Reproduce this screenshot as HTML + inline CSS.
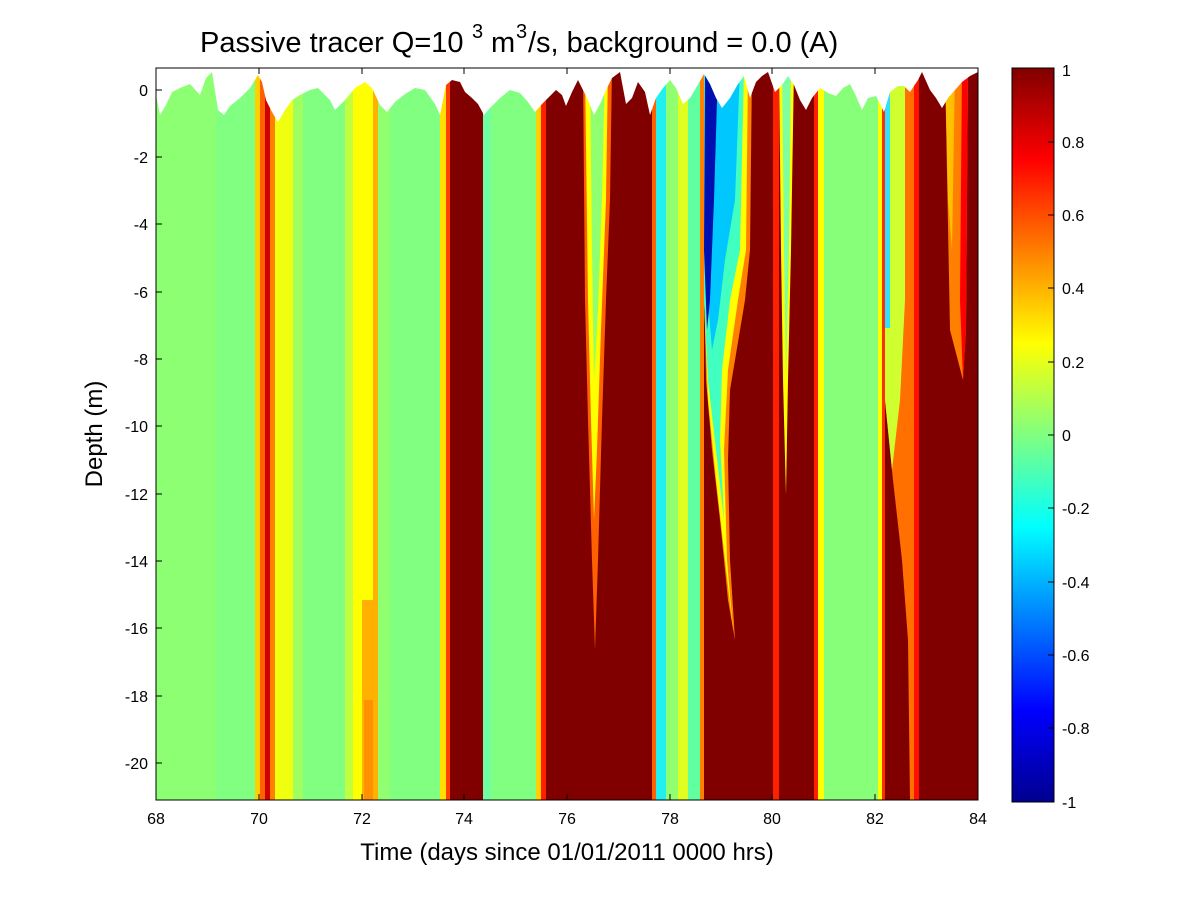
<!DOCTYPE html>
<html><head><style>
body{margin:0;background:#fff;}
svg text{font-family:"Liberation Sans",Arial,sans-serif;fill:#000;}
</style></head><body>
<svg width="1200" height="900" xmlns="http://www.w3.org/2000/svg">
<defs>
<linearGradient id="jet" x1="0" y1="1" x2="0" y2="0">
<stop offset="0" stop-color="#00008f"/>
<stop offset="0.125" stop-color="#0000ff"/>
<stop offset="0.375" stop-color="#00ffff"/>
<stop offset="0.5" stop-color="#80ff80"/>
<stop offset="0.625" stop-color="#ffff00"/>
<stop offset="0.875" stop-color="#ff0000"/>
<stop offset="1" stop-color="#800000"/>
</linearGradient>
<clipPath id="pc"><rect x="156" y="68" width="822" height="732"/></clipPath>
</defs>
<g clip-path="url(#pc)">
<rect x="156" y="68" width="822" height="732" fill="#80ff80"/>
<rect x="156" y="68" width="60" height="732" fill="#8cff73"/>
<rect x="216" y="68" width="40" height="732" fill="#80ff80"/>
<rect x="255" y="68" width="5" height="732" fill="#ffd000"/>
<rect x="260" y="68" width="5" height="732" fill="#ff6000"/>
<rect x="265" y="68" width="5" height="732" fill="#d00000"/>
<rect x="270" y="68" width="5" height="732" fill="#ff8000"/>
<rect x="275" y="68" width="18" height="732" fill="#f0ff10"/>
<rect x="293" y="68" width="10" height="732" fill="#a0ff60"/>
<rect x="345" y="68" width="8" height="732" fill="#c0ff40"/>
<rect x="353" y="68" width="20" height="732" fill="#ffff00"/>
<rect x="362" y="600" width="12" height="200" fill="#ffb000"/>
<rect x="364" y="700" width="9" height="100" fill="#ff9000"/>
<rect x="373" y="68" width="5" height="732" fill="#ffb000"/>
<rect x="378" y="68" width="12" height="732" fill="#90ff70"/>
<rect x="440" y="68" width="6" height="732" fill="#ffe000"/>
<rect x="446" y="68" width="4" height="732" fill="#ff4000"/>
<rect x="450" y="68" width="33" height="732" fill="#800000"/>
<rect x="483" y="68" width="8" height="732" fill="#70ffa0"/>
<rect x="536" y="68" width="5" height="732" fill="#ffd000"/>
<rect x="541" y="68" width="5" height="732" fill="#ff2000"/>
<rect x="546" y="68" width="106" height="732" fill="#800000"/>
<polygon points="583,68 612,68 610,200 606,300 602,420 598,560 595,650 592,560 588,420 585,300" fill="#ff6000"/>
<polygon points="585,68 608,68 606,200 601,330 597,450 594,520 591,420 588,300" fill="#ffff00"/>
<polygon points="590,68 605,68 602,200 598,310 594,380 592,250" fill="#90ff70"/>
<rect x="652" y="68" width="4" height="732" fill="#ff6000"/>
<rect x="656" y="68" width="10" height="732" fill="#20f0f0"/>
<rect x="666" y="68" width="12" height="732" fill="#90ff70"/>
<rect x="678" y="68" width="10" height="732" fill="#e0ff20"/>
<rect x="688" y="68" width="12" height="732" fill="#60ffa0"/>
<rect x="700" y="68" width="4" height="732" fill="#ff8000"/>
<rect x="704" y="68" width="112" height="732" fill="#800000"/>
<polygon points="704,68 752,68 750,250 745,300 735,360 730,390 728,460 730,560 735,640 728,600 720,520 712,450 706,380 704,280" fill="#ff8000"/>
<polygon points="704,68 748,68 746,250 738,300 728,370 724,450 727,560 733,630 725,560 716,480 708,400 704,300" fill="#ffff00"/>
<polygon points="704,68 744,68 740,250 730,300 722,370 720,440 724,520 716,450 708,380 704,300" fill="#40ffc0"/>
<polygon points="712,68 740,68 735,200 725,260 718,320 712,350 708,300 705,200" fill="#00c8ff"/>
<polygon points="705,68 718,68 714,200 710,300 707,330 704,250" fill="#0010b0"/>
<rect x="773" y="68" width="6" height="732" fill="#ff2000"/>
<polygon points="779,68 794,68 791,250 788,380 786,495 783,380 781,250" fill="#ffff00"/>
<polygon points="782,68 791,68 789,250 786,380 784,250" fill="#80ffa0"/>
<rect x="814" y="68" width="4" height="732" fill="#ff2000"/>
<rect x="818" y="68" width="6" height="732" fill="#ffff00"/>
<rect x="824" y="68" width="58" height="732" fill="#88ff78"/>
<rect x="878" y="68" width="4" height="732" fill="#ffff00"/>
<rect x="882" y="68" width="3" height="732" fill="#ff3000"/>
<rect x="885" y="68" width="93" height="732" fill="#800000"/>
<polygon points="885,68 918,68 918,800 910,800 908,640 902,560 893,480 885,400" fill="#ff7000"/>
<polygon points="885,68 905,68 905,300 900,400 892,470 885,400" fill="#d0ff30"/>
<rect x="885" y="68" width="5" height="260" fill="#30e0ff"/>
<rect x="914" y="68" width="5" height="732" fill="#ff1000"/>
<polygon points="945,68 968,68 966,330 963,380 950,330" fill="#ff8000"/>
<polygon points="945,68 955,68 952,250 948,200" fill="#ffc000"/>
<polygon points="962,68 968,68 966,330 963,380 960,300" fill="#ff0000"/>
<polygon fill="#fff" points="156,68 156,95 160,115 166,105 172,92 180,88 190,84 200,95 206,78 212,72 218,110 224,115 230,106 240,98 250,88 258,75 262,82 266,100 272,112 278,122 285,110 292,100 300,95 310,90 318,88 330,100 335,110 345,100 355,88 365,82 372,88 380,105 387,112 395,102 405,94 415,88 425,90 435,104 440,115 446,85 452,80 460,82 465,92 472,98 478,104 484,115 490,108 500,98 510,90 520,93 528,102 535,112 542,104 548,98 556,90 562,95 566,106 572,92 578,80 582,88 588,100 594,115 600,104 606,90 612,78 620,72 626,104 632,98 638,82 645,92 650,115 656,98 663,88 670,80 676,88 683,104 690,98 696,88 704,74 710,84 716,98 722,108 730,98 738,84 744,76 750,98 756,82 762,76 768,72 775,92 782,85 788,76 794,85 800,100 806,110 812,98 820,88 828,93 836,96 843,88 850,84 856,96 862,110 868,98 876,96 884,112 890,92 898,86 904,86 910,92 918,80 922,72 930,90 936,98 942,108 948,98 955,90 962,82 970,76 978,72 978,68"/>
</g>
<rect x="156" y="68" width="822" height="732" fill="none" stroke="#000" stroke-width="1"/>
<g stroke="#000" stroke-width="1">
<line x1="156" y1="90" x2="162" y2="90"/><line x1="156" y1="157" x2="162" y2="157"/><line x1="156" y1="224" x2="162" y2="224"/><line x1="156" y1="292" x2="162" y2="292"/><line x1="156" y1="359" x2="162" y2="359"/><line x1="156" y1="426" x2="162" y2="426"/><line x1="156" y1="494" x2="162" y2="494"/><line x1="156" y1="561" x2="162" y2="561"/><line x1="156" y1="628" x2="162" y2="628"/><line x1="156" y1="696" x2="162" y2="696"/><line x1="156" y1="763" x2="162" y2="763"/>
<line x1="259" y1="68" x2="259" y2="74"/><line x1="362" y1="68" x2="362" y2="74"/><line x1="464" y1="68" x2="464" y2="74"/><line x1="567" y1="68" x2="567" y2="74"/><line x1="670" y1="68" x2="670" y2="74"/><line x1="772" y1="68" x2="772" y2="74"/><line x1="875" y1="68" x2="875" y2="74"/>
<line x1="259" y1="800" x2="259" y2="794"/><line x1="362" y1="800" x2="362" y2="794"/><line x1="464" y1="800" x2="464" y2="794"/><line x1="567" y1="800" x2="567" y2="794"/><line x1="670" y1="800" x2="670" y2="794"/><line x1="772" y1="800" x2="772" y2="794"/><line x1="875" y1="800" x2="875" y2="794"/>
</g>
<g font-size="16" text-anchor="end">
<text x="148" y="96">0</text><text x="148" y="163">-2</text><text x="148" y="230">-4</text><text x="148" y="298">-6</text><text x="148" y="365">-8</text><text x="148" y="432">-10</text><text x="148" y="500">-12</text><text x="148" y="567">-14</text><text x="148" y="634">-16</text><text x="148" y="702">-18</text><text x="148" y="769">-20</text>
</g>
<g font-size="16" text-anchor="middle">
<text x="156" y="824">68</text><text x="259" y="824">70</text><text x="362" y="824">72</text><text x="464" y="824">74</text><text x="567" y="824">76</text><text x="670" y="824">78</text><text x="772" y="824">80</text><text x="875" y="824">82</text><text x="978" y="824">84</text>
</g>
<text x="567" y="860" font-size="24" text-anchor="middle">Time (days since 01/01/2011 0000 hrs)</text>
<text transform="translate(102,434) rotate(-90)" font-size="24" text-anchor="middle">Depth (m)</text>
<text x="200" y="52" font-size="29">Passive tracer Q=10</text>
<text x="472" y="38" font-size="20">3</text>
<text x="491" y="52" font-size="29">m</text>
<text x="516" y="38" font-size="20">3</text>
<text x="528" y="52" font-size="29">/s, background = 0.0 (A)</text>
<rect x="1012" y="68" width="42" height="734" fill="url(#jet)" stroke="#000" stroke-width="1"/>
<g stroke="#000">
<line x1="1048" y1="142" x2="1054" y2="142"/><line x1="1048" y1="215" x2="1054" y2="215"/><line x1="1048" y1="288" x2="1054" y2="288"/><line x1="1048" y1="362" x2="1054" y2="362"/><line x1="1048" y1="435" x2="1054" y2="435"/><line x1="1048" y1="508" x2="1054" y2="508"/><line x1="1048" y1="582" x2="1054" y2="582"/><line x1="1048" y1="655" x2="1054" y2="655"/><line x1="1048" y1="728" x2="1054" y2="728"/>
</g>
<g font-size="16">
<text x="1062" y="76">1</text><text x="1062" y="148">0.8</text><text x="1062" y="221">0.6</text><text x="1062" y="294">0.4</text><text x="1062" y="368">0.2</text><text x="1062" y="441">0</text><text x="1062" y="514">-0.2</text><text x="1062" y="588">-0.4</text><text x="1062" y="661">-0.6</text><text x="1062" y="734">-0.8</text><text x="1062" y="808">-1</text>
</g>
</svg>
</body></html>
